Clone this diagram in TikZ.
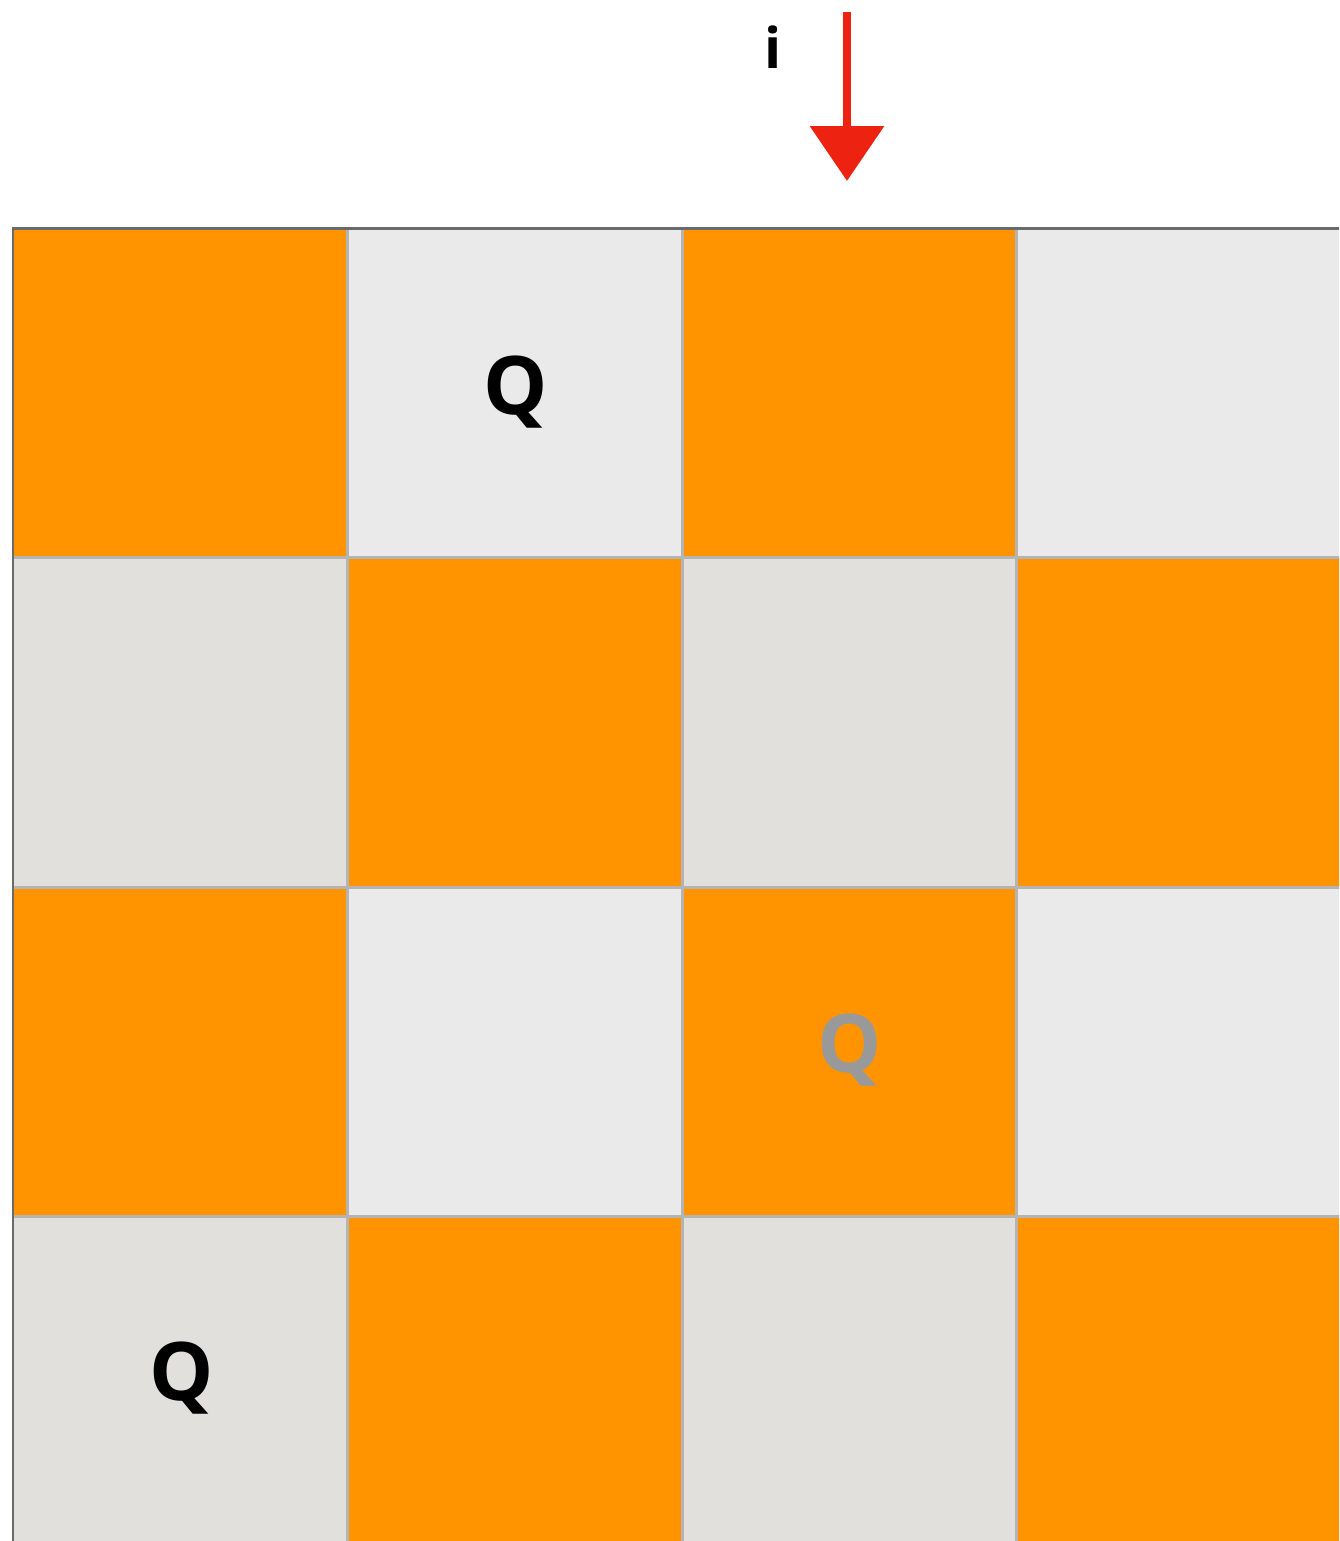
\documentclass[tikz,border=0pt]{standalone}
\usepackage{fontspec}
\setmainfont{Open Sans}
\usetikzlibrary{arrows.meta}
\definecolor{boardorange}{HTML}{FF9400}
\definecolor{boardlight}{HTML}{EAEAEA}
\definecolor{boarddark}{HTML}{E1E0DC}
\definecolor{gridgray}{HTML}{B4B4B4}
\definecolor{edgegray}{HTML}{6A6A6A}
\definecolor{queengray}{HTML}{999999}
\definecolor{arrowred}{HTML}{EE2211}
\tikzset{
  queen/.style={font=\bfseries\fontsize{46}{46}\selectfont},
  gridline/.style={draw=gridgray, line width=0.06cm},
  edgeline/.style={draw=edgegray, line width=0.06cm}
}
\begin{document}
\begin{tikzpicture}[x=0.02cm,y=-0.02cm]
\useasboundingbox (0,0) rectangle (1339,1541);
\clip (0,0) rectangle (1339,1541);

% board cells
\foreach \r in {0,...,3} {
  \foreach \c in {0,...,3} {
    \pgfmathtruncatemacro{\cellpar}{mod(\r+\c,2)}
    \pgfmathtruncatemacro{\rowpar}{mod(\r,2)}
    \ifnum\cellpar=0
      \def\cellfill{boardorange}
    \else
      \ifnum\rowpar=0 \def\cellfill{boardlight}\else \def\cellfill{boarddark}\fi
    \fi
    \fill[\cellfill] (13+334.5*\c,228+329.5*\r) rectangle ++(334.5,329.5);
  }
}

% grid lines
\foreach \c in {1,2,3}
  \draw[gridline] (13+334.5*\c,228) -- (13+334.5*\c,1560);
\foreach \r in {1,2,3}
  \draw[gridline] (13,228+329.5*\r) -- (1360,228+329.5*\r);
\draw[edgeline] (13,1560) -- (13,228) -- (1360,228);

% queens
\node[queen] (q1) at (516,392) {Q};
\node[queen, text=queengray] (q2) at (850,1050) {Q};
\node[queen] (q3) at (182,1378) {Q};

% column marker
\node[font=\bfseries\fontsize{32}{32}\selectfont] (ilabel) at (773,47) {i};
\coordinate (arrowtop) at (847,12);
\coordinate (arrowtip) at (847,181);
\draw[arrowred, line width=0.17cm, -{Triangle[length=1.1cm,width=1.45cm]}] (arrowtop) -- (arrowtip);
\end{tikzpicture}
\end{document}
